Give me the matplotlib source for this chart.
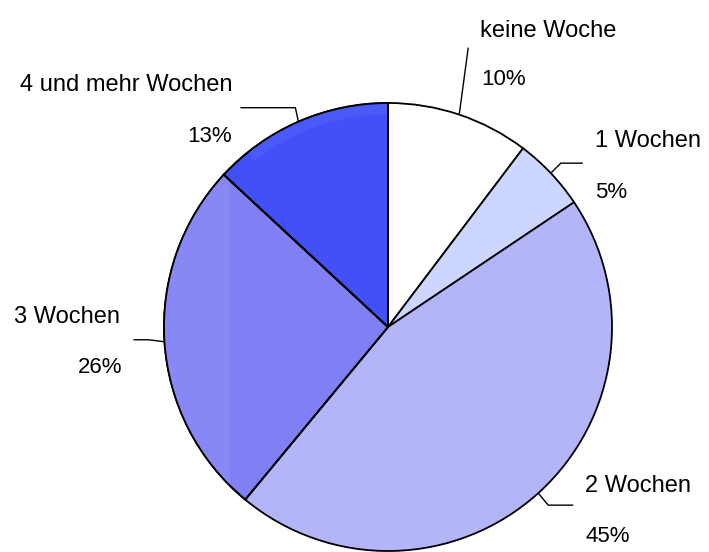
import matplotlib
matplotlib.use("Agg")
import matplotlib.pyplot as plt
from matplotlib.patches import Rectangle, Wedge
import numpy as np

# data (share of answers, percent)
categories = ["keine Woche", "1 Wochen", "2 Wochen", "3 Wochen", "4 und mehr Wochen"]
values = [10.3, 5.3, 45.4, 25.9, 13.1]
colors = ["#FFFFFF", "#CCD6FF", "#B4B4F8", "#8080F4", "#4151F7"]

# layout in pixels (figure is 709 x 552 px)
W, H = 709, 552
CX, CY, R = 388, 327, 224.0

# label anchor (left, baseline) and percent anchor, in pixels
label_pos = [(480, 37), (595, 147), (585, 492), (14, 323), (20, 91)]
pct_pos = [(481, 85), (595, 198), (585, 542), (78, 373), (187, 142)]
# leader line offsets from the wedge edge (pixels, y down)
leader = [
    [(9, -67)],
    [(10, -10), (32, -10)],
    [(10, 12), (35, 12)],
    [(-16, -2), (-31, -2)],
    [(-3, -14), (-58, -14)],
]


def px(x, y):
    return (x - CX) / R, (CY - y) / R


fig = plt.figure(figsize=(W / 100, H / 100), dpi=100)
ax = fig.add_axes([0, 0, 1, 1])

wedges, _ = ax.pie(values, colors=colors, startangle=90, counterclock=False,
                   radius=1.0, center=(0, 0),
                   wedgeprops=dict(edgecolor="black", linewidth=1.3))

# lighter shading bands near the rim (as in the original rendering)
band = Rectangle(px(150, 560), (230 - 150) / R, 480 / R, facecolor="#8787F5",
                 edgecolor="none", zorder=wedges[3].get_zorder() + 0.1)
ax.add_patch(band)
band.set_clip_path(wedges[3])
w4 = wedges[4]
ring = Wedge((0, 0), 1.0, w4.theta1, (w4.theta1 + w4.theta2) / 2 + 15, width=0.05,
             facecolor="#4A5AF8", edgecolor="none", zorder=w4.get_zorder() + 0.1)
ax.add_patch(ring)
ring.set_clip_path(w4)
for w in wedges[3:]:
    outline = Wedge((0, 0), 1.0, w.theta1, w.theta2, facecolor="none",
                    edgecolor="black", linewidth=1.3, zorder=w.get_zorder() + 0.2)
    ax.add_patch(outline)

ax.set_xlim(-CX / R, (W - CX) / R)
ax.set_ylim((CY - H) / R, CY / R)
ax.set_aspect("equal")
ax.axis("off")

for i, w in enumerate(wedges):
    th = np.deg2rad((w.theta1 + w.theta2) / 2)
    ex, ey = np.cos(th), np.sin(th)
    xs, ys = [ex], [ey]
    for dx, dy in leader[i]:
        xs.append(ex + dx / R)
        ys.append(ey - dy / R)
    ax.plot(xs, ys, color="black", linewidth=1.0, solid_capstyle="butt")

    lx, ly = px(*label_pos[i])
    ax.text(lx, ly, categories[i], ha="left", va="baseline",
            fontsize=17, family=["Liberation Sans", "DejaVu Sans"], color="black")
    tx, ty = px(*pct_pos[i])
    ax.text(tx, ty, "%d%%" % round(values[i]), ha="left", va="baseline",
            fontsize=16, family=["Liberation Sans", "DejaVu Sans"], color="black")

fig.savefig("out.png", dpi=100)
